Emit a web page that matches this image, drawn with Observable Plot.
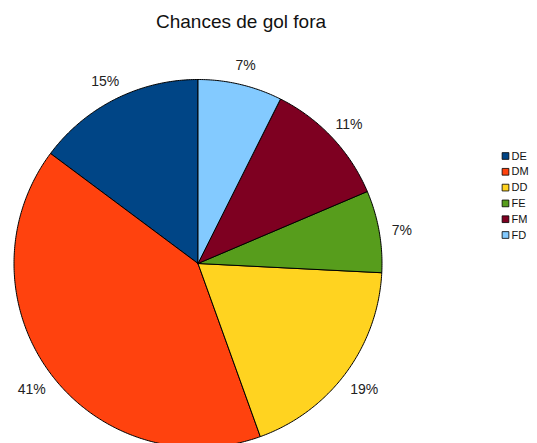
<!DOCTYPE html>
<html><head><meta charset="utf-8">
<script src="https://cdn.jsdelivr.net/npm/d3@7"></script>
<script src="https://cdn.jsdelivr.net/npm/@observablehq/plot@0.6"></script>
<style>body{margin:0;background:#fff;font-family:"Liberation Sans",Arial,sans-serif}</style>
</head><body><div id="chart"></div>
<script>
const title = "Chances de gol fora";
const categories = ["DE", "DM", "DD", "FE", "FM", "FD"];
const values = [14.8, 40.7, 18.7, 7.2, 11.2, 7.4];
const percentLabels = ["15%", "41%", "19%", "7%", "11%", "7%"];
const colors = ["#004586", "#ff420e", "#ffd320", "#579d1c", "#7e0021", "#83caff"];

const W = 537, H = 443;
const cx = 197.5, cy = 263, r = 184;
const total = d3.sum(values);

// slices go counterclockwise from 12 o'clock, starting with DE
const polys = [];
const labels = [];
let acc = 0;
categories.forEach((c, i) => {
  const a0 = acc / total * 2 * Math.PI;
  acc += values[i];
  const a1 = acc / total * 2 * Math.PI;
  const n = Math.max(4, Math.ceil((a1 - a0) / 0.01));
  polys.push({cat: c, x: 0, y: 0});
  for (let j = 0; j <= n; j++) {
    const a = a0 + (a1 - a0) * j / n;
    polys.push({cat: c, x: -Math.sin(a), y: Math.cos(a)});
  }
  polys.push({cat: c, x: 0, y: 0});
  const am = (a0 + a1) / 2;
  const lr = 1.125;
  labels.push({cat: c, x: -Math.sin(am) * lr, y: Math.cos(am) * lr, text: percentLabels[i]});
});

// legend positions given in pixels, converted to the chart's data space
const toX = px => (px - cx) / r;
const toY = py => (cy - py) / r;
const legend = categories.map((c, i) => ({cat: c, sx: toX(505), tx: toX(511), y: toY(155.5 + i * 15.8)}));

const chart = Plot.plot({
  width: W, height: H,
  margin: 0,
  x: {domain: [-1, 1], range: [cx - r, cx + r], axis: null},
  y: {domain: [-1, 1], range: [cy + r, cy - r], axis: null},
  color: {domain: categories, range: colors},
  style: {fontFamily: '"Liberation Sans", Arial, sans-serif', background: "white"},
  marks: [
    Plot.line(polys, {x: "x", y: "y", z: "cat", fill: "cat", stroke: "black", strokeWidth: 1, curve: "linear"}),
    Plot.text(labels, {x: "x", y: "y", text: "text", fontSize: 14, dy: 3, fill: "#222"}),
    Plot.text([title], {frameAnchor: "top", dx: -28, dy: 14, text: d => d, fontSize: 19, fill: "#111"}),
    Plot.dot(legend, {x: "sx", y: "y", symbol: "square", r: 3.8, fill: "cat", stroke: "black", strokeWidth: 0.8}),
    Plot.text(legend, {x: "tx", y: "y", text: "cat", textAnchor: "start", fontSize: 11, fill: "#111"})
  ]
});
document.getElementById("chart").appendChild(chart);
</script></body></html>
